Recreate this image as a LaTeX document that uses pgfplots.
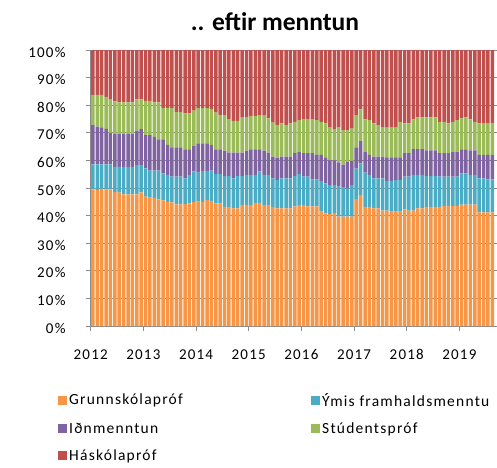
\documentclass[border=0pt]{standalone}
\usepackage{fontspec}
\setmainfont{Carlito}[LetterSpace=8]
\newfontfamily\titlefont{Carlito}
\usepackage{pgfplots}
\usepackage{pgfplotstable}
\pgfplotsset{compat=1.18}
\definecolor{cO}{HTML}{F79646}
\definecolor{cB}{HTML}{4BACC6}
\definecolor{cP}{HTML}{8064A2}
\definecolor{cG}{HTML}{9BBB59}
\definecolor{cH}{HTML}{C0504D}
\definecolor{axgray}{RGB}{140,140,140}
\pgfplotstableread{
x O B P G H
0.5 49.5 9.1 14.2 10.9 16.3
1.5 49.3 9.3 13.6 11.5 16.3
2.5 49.7 8.9 13.4 11.7 16.3
3.5 49.5 9.1 12.8 11.6 17.0
4.5 49.5 9.1 11.4 12.0 18.0
5.5 48.5 9.2 11.8 11.9 18.6
6.5 48.3 9.4 11.8 11.5 19.0
7.5 47.7 10.0 11.8 11.5 19.0
8.5 47.7 10.0 11.8 11.5 19.0
9.5 47.7 10.0 11.8 11.5 19.0
10.5 47.7 10.6 12.5 11.3 17.9
11.5 48.4 9.9 13.0 10.8 17.9
12.5 46.9 10.2 12.1 12.4 18.4
13.5 46.5 9.8 12.9 12.4 18.4
14.5 46.3 10.0 12.2 12.5 19.0
15.5 45.9 10.4 11.3 13.4 19.0
16.5 45.5 9.8 12.3 11.4 21.0
17.5 45.0 9.8 10.8 13.4 21.0
18.5 44.8 9.3 10.6 14.3 21.0
19.5 44.1 10.0 10.6 12.8 22.5
20.5 44.1 10.0 10.6 12.8 22.5
21.5 44.2 9.3 10.5 13.0 23.0
22.5 44.4 10.4 9.2 13.0 23.0
23.5 45.0 11.0 9.2 12.8 22.0
24.5 45.1 10.5 10.6 12.7 21.1
25.5 45.0 11.2 10.0 12.7 21.1
26.5 45.6 10.6 10.0 12.7 21.1
27.5 45.3 11.0 9.2 13.2 21.3
28.5 44.4 10.7 8.9 13.3 22.7
29.5 44.4 10.7 8.9 12.5 23.5
30.5 43.2 11.1 9.2 12.9 23.6
31.5 43.2 11.1 8.5 12.2 25.0
32.5 42.6 10.9 9.3 11.5 25.7
33.5 42.6 11.7 8.5 11.5 25.7
34.5 43.9 10.4 8.5 12.7 24.5
35.5 43.9 10.9 8.7 12.0 24.5
36.5 43.9 10.9 9.2 12.1 23.9
37.5 44.6 10.2 9.2 12.1 23.9
38.5 44.6 11.4 8.0 12.4 23.6
39.5 43.8 11.0 8.7 12.7 23.8
40.5 43.8 11.0 8.0 12.4 24.8
41.5 43.2 10.3 7.9 12.3 26.3
42.5 42.6 10.3 7.9 12.0 27.2
43.5 42.6 10.9 7.9 12.0 26.6
44.5 42.6 10.9 7.9 11.4 27.2
45.5 42.6 10.9 7.9 12.0 26.6
46.5 43.3 11.0 8.3 11.4 26.0
47.5 43.8 11.2 8.2 11.4 25.4
48.5 43.8 10.3 8.5 12.4 25.0
49.5 43.3 10.8 8.5 12.4 25.0
50.5 43.3 9.8 9.5 12.4 25.0
51.5 43.3 9.8 8.9 12.6 25.4
52.5 41.4 11.1 9.5 12.0 26.0
53.5 40.8 10.9 9.4 12.3 26.6
54.5 40.5 10.5 9.0 11.9 28.1
55.5 41.0 10.0 9.0 11.3 28.7
56.5 39.6 10.9 8.8 12.6 28.1
57.5 39.6 10.7 8.2 12.3 29.2
58.5 39.6 10.2 9.7 11.5 29.0
59.5 39.6 11.4 8.8 11.7 28.5
60.5 46.0 11.0 7.7 11.7 23.6
61.5 47.5 11.4 8.1 11.5 21.5
62.5 43.2 12.4 7.6 11.7 25.1
63.5 43.2 11.6 7.2 12.6 25.4
64.5 42.6 10.9 7.9 12.0 26.6
65.5 42.6 10.9 7.9 11.4 27.2
66.5 41.8 11.7 7.9 10.5 28.1
67.5 41.8 10.8 8.5 10.8 28.1
68.5 41.4 11.2 8.5 10.8 28.1
69.5 41.4 11.5 8.2 10.8 28.1
70.5 41.4 11.5 8.2 12.9 26.0
71.5 42.3 11.8 8.5 10.8 26.6
72.5 41.8 12.3 8.5 10.8 26.6
73.5 41.8 13.0 9.3 10.8 25.1
74.5 42.6 12.2 9.3 11.5 24.4
75.5 42.6 12.2 9.3 11.5 24.4
76.5 43.2 11.1 9.3 12.0 24.4
77.5 43.2 11.1 9.3 12.0 24.4
78.5 43.2 11.1 9.3 12.0 24.4
79.5 43.2 10.9 8.5 11.4 26.0
80.5 43.5 10.6 8.5 11.4 26.0
81.5 43.5 10.6 8.5 10.8 26.6
82.5 43.5 10.6 9.1 10.8 26.0
83.5 43.5 10.6 9.1 11.4 25.4
84.5 44.0 11.3 8.7 11.2 24.8
85.5 44.0 11.3 8.7 11.6 24.4
86.5 44.0 10.8 8.8 11.3 25.1
87.5 44.0 10.8 8.8 10.4 26.0
88.5 41.2 12.3 8.5 11.4 26.6
89.5 41.2 12.3 8.5 11.3 26.7
90.5 41.2 11.9 8.9 11.3 26.7
91.5 41.2 11.9 8.9 11.6 26.4
}\datatable
\begin{document}
\begin{tikzpicture}
\begin{axis}[
  name=ax,
  scale only axis, width=406pt, height=276pt,
  xmin=0, xmax=92.5, ymin=0, ymax=100,
  ybar stacked, bar width=0.8,
  axis x line*=bottom, axis y line*=left,
  axis line style={draw=axgray, line width=0.9pt},
  xtick={0,12,24,36,48,60,72,84},
  xticklabels={2012,2013,2014,2015,2016,2017,2018,2019},
  ytick={0,10,...,100},
  yticklabel={\pgfmathprintnumber{\tick}\%},
  /pgf/number format/assume math mode=true,
  tick align=outside, major tick length=5pt,
  tick style={draw=axgray, line width=0.9pt},
  ymajorgrids, grid style={draw=axgray, line width=0.9pt},
  ticklabel style={font=\fontsize{15}{18}\selectfont, inner sep=0pt},
  yticklabel style={anchor=east, xshift=-20pt, yshift=-2pt},
  xticklabel style={anchor=center, yshift=-23.5pt},
  title={.. eftir menntun},
  title style={at={(0.454,1.080)}, anchor=center, inner sep=0pt, font=\titlefont\fontsize{25.5}{28}\selectfont\bfseries},
  every axis plot post/.append style={draw=none, legend image code/.code={\fill[##1] (0pt,-4.5pt) rectangle (9pt,4.5pt);}},
  legend columns=2,
  legend cell align=left,
  legend style={at={(-0.0805,-0.235)}, anchor=north west, draw=none, fill=none, inner sep=0pt,
    font=\fontsize{15.5}{18}\selectfont, row sep=11pt,
    /tikz/every even column/.append style={column sep=0pt}},
]
\addplot[fill=cO] table[x=x,y=O]{\datatable};
\addlegendentry{\makebox[240pt][l]{Grunnskólapróf}}
\addplot[fill=cB] table[x=x,y=B]{\datatable};
\addlegendentry{Ýmis framhaldsmenntu}
\addplot[fill=cP] table[x=x,y=P]{\datatable};
\addlegendentry{\makebox[240pt][l]{Iðnmenntun}}
\addplot[fill=cG] table[x=x,y=G]{\datatable};
\addlegendentry{Stúdentspróf}
\addplot[fill=cH] table[x=x,y=H]{\datatable};
\addlegendentry{\makebox[240pt][l]{Háskólapróf}}
\end{axis}
\pgfresetboundingbox
\path[use as bounding box] ([shift={(-90.7pt,-141pt)}]ax.south west) rectangle ([shift={(406.3pt,326pt)}]ax.south west);
\end{tikzpicture}
\end{document}
